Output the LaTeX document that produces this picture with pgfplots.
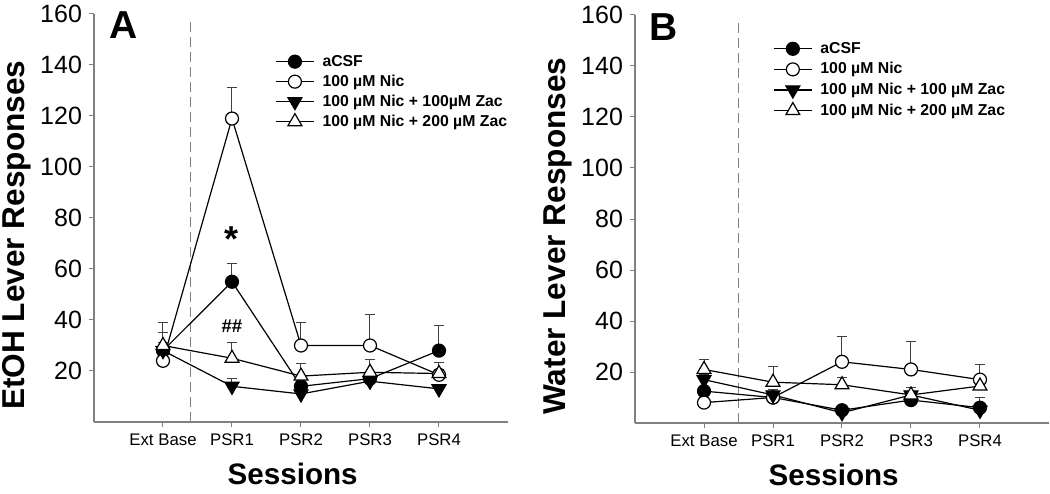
\documentclass[border=0pt]{standalone}
\usepackage{fontspec}
\setmainfont{Liberation Sans}
\usepackage{pgfplots}
\pgfplotsset{compat=1.18}

\pgfplotsset{
  panel/.style={
    scale only axis, width=207pt, height=204pt,
    xmin=-1, xmax=5, ymin=0, ymax=160,
    axis x line=bottom, axis y line=left,
    axis line style={-, draw=black!50, line width=0.6pt},
    xtick={0,1,2,3,4}, xticklabels={Ext Base,PSR1,PSR2,PSR3,PSR4},
    ytick={20,40,...,160},
    tick align=outside, major tick length=2.5pt,
    tick style={black!50, line width=0.5pt},
    xticklabel style={font=\fontsize{8.4}{10}\selectfont},
    yticklabel style={font=\fontsize{12.5}{14}\selectfont},
    /pgf/number format/assume math mode=true,
    xlabel={Sessions},
    xlabel style={font=\bfseries\fontsize{14.8}{16}\selectfont, at={(rel axis cs:0.48,-0.1275)}, anchor=center},
    ylabel style={font=\bfseries\fontsize{15.8}{17}\selectfont, at={(rel axis cs:-0.186,0.458)}, anchor=center},
    clip=false,
    legend cell align=left,
    legend image code/.code={\draw[mark repeat=2,mark phase=2,##1] plot coordinates {(0pt,0pt) (9.5pt,0pt) (19pt,0pt)};},
    legend style={anchor=north west, draw=none, fill=none, inner sep=0pt,
      font=\bfseries\fontsize{7.9}{9}\selectfont, row sep=1.5pt, column sep=3.5pt,
      nodes={inner sep=0.5pt, text height=6pt, text depth=1.5pt}},
  },
  eb/.style={error bars/.cd, y dir=plus, y explicit,
    error bar style={line width=0.5pt, black!75},
    error mark options={rotate=90, mark size=2.5pt, line width=0.5pt, black!75}},
  sA/.style={black, line width=0.6pt, mark=*, mark size=3.25pt, mark options={fill=black, draw=black}},
  sB/.style={black, line width=0.6pt, mark=*, mark size=3.25pt, mark options={fill=white, draw=black}},
  sC/.style={black, line width=0.6pt, mark=triangle*, mark size=4pt, mark options={fill=black, draw=black, rotate=180}},
  sD/.style={black, line width=0.6pt, mark=triangle*, mark size=4pt, mark options={fill=white, draw=black}},
}

\begin{document}
\begin{tikzpicture}
\path[use as bounding box] (0,0) rectangle (525pt,246.5pt);

% Panel A
\begin{axis}[panel, at={(47pt,35.5pt)}, anchor=south west,
  ylabel={EtOH Lever Responses},
  legend style={at={(rel axis cs:0.437,0.905)}}]
\addplot[gray, dashed, dash pattern=on 5pt off 2.5pt, line width=0.5pt, forget plot] coordinates {(0.4,0) (0.4,158)};
\addplot[sA, eb] coordinates {(0,28) +- (0,7) (1,55) +- (0,7) (2,14) +- (0,2) (3,17) +- (0,1) (4,28) +- (0,10)};
\addlegendentry{aCSF}
\addplot[sB, eb] coordinates {(0,24) +- (0,4) (1,119) +- (0,12) (2,30) +- (0,9) (3,30) +- (0,12) (4,18.5) +- (0,2)};
\addlegendentry{100 µM Nic}
\addplot[sC, eb] coordinates {(0,28) +- (0,3) (1,14) +- (0,3) (2,11) +- (0,1) (3,16) +- (0,1) (4,13) +- (0,1)};
\addlegendentry{100 µM Nic + 100µM Zac}
\addplot[sD, eb] coordinates {(0,30) +- (0,9) (1,25) +- (0,6) (2,18) +- (0,5) (3,19.5) +- (0,5) (4,19) +- (0,4.5)};
\addlegendentry{100 µM Nic + 200 µM Zac}
\node[font=\bfseries\fontsize{19.5}{20}\selectfont] at (rel axis cs:0.072,0.973) {A};
\node[font=\bfseries\fontsize{18}{20}\selectfont, anchor=base] at (axis cs:1,67) {*};
\node[font=\bfseries\fontsize{9.3}{10}\selectfont] at (axis cs:1,37.6) {\#\#};
\end{axis}

% Panel B
\begin{axis}[panel, at={(317.5pt,35pt)}, anchor=south west,
  ylabel={Water Lever Responses},
  legend style={at={(rel axis cs:0.333,0.939)}, row sep=1.8pt}]
\addplot[gray, dashed, dash pattern=on 5pt off 2.5pt, line width=0.5pt, forget plot] coordinates {(0.5,0) (0.5,158)};
\addplot[sA, eb] coordinates {(0,12.5) +- (0,2) (1,10) +- (0,1) (2,5) +- (0,1) (3,9) +- (0,1) (4,6) +- (0,4)};
\addlegendentry{aCSF}
\addplot[sB, eb] coordinates {(0,8) +- (0,1) (1,10) +- (0,1) (2,24) +- (0,10) (3,21) +- (0,11) (4,17) +- (0,6)};
\addlegendentry{100 µM Nic}
\addplot[sC, eb] coordinates {(0,17) +- (0,2) (1,11) +- (0,2) (2,4) +- (0,1) (3,11) +- (0,1) (4,5) +- (0,1)};
\addlegendentry{100 µM Nic + 100 µM Zac}
\addplot[sD, eb] coordinates {(0,21) +- (0,4) (1,16) +- (0,6) (2,15) +- (0,3) (3,11) +- (0,3) (4,14.5) +- (0,3)};
\addlegendentry{100 µM Nic + 200 µM Zac}
\node[font=\bfseries\fontsize{19.5}{20}\selectfont] at (rel axis cs:0.07,0.97) {B};
\end{axis}
\end{tikzpicture}
\end{document}
